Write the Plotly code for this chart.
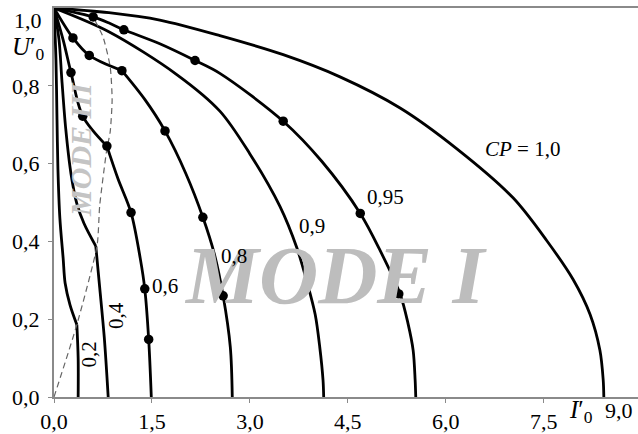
import plotly.graph_objects as go

# ---------------- data ----------------
# CP = 1,0
I_10 = [0.0, 0.84, 1.62, 2.54, 3.51, 4.38, 5.30, 6.17, 7.03, 7.55, 7.95, 8.21, 8.36, 8.41, 8.42]
U_10 = [1.0, 0.988, 0.969, 0.929, 0.880, 0.823, 0.743, 0.638, 0.512, 0.401, 0.302, 0.212, 0.120, 0.045, 0.0]
# CP = 0,95
I_095 = [0.0, 0.60, 0.86, 1.07, 1.62, 2.16, 2.54, 3.51, 4.10, 4.69, 4.99, 5.30, 5.42, 5.50, 5.53, 5.54]
U_095 = [1.0, 0.977, 0.960, 0.944, 0.908, 0.865, 0.832, 0.709, 0.606, 0.472, 0.378, 0.265, 0.190, 0.120, 0.045, 0.0]
# CP = 0,9
I_09 = [0.0, 0.84, 1.88, 2.54, 3.00, 3.46, 3.72, 3.87, 4.00, 4.07, 4.12, 4.13]
U_09 = [1.0, 0.939, 0.829, 0.735, 0.625, 0.490, 0.383, 0.298, 0.212, 0.128, 0.043, 0.0]
# CP = 0,8 (mode III part, mode I part)
I_08_A = [0.0, 0.29, 0.54, 1.04]
U_08_A = [1.0, 0.923, 0.878, 0.839]
I_08_B = [1.04, 1.39, 1.70, 2.02, 2.28, 2.46, 2.59, 2.70, 2.73]
U_08_B = [0.839, 0.765, 0.684, 0.574, 0.462, 0.365, 0.260, 0.128, 0.0]
# CP = 0,6
I_06_A = [0.0, 0.14, 0.26, 0.44, 0.81]
U_06_A = [1.0, 0.918, 0.834, 0.722, 0.645]
I_06_B = [0.81, 0.98, 1.18, 1.32, 1.39, 1.45, 1.49]
U_06_B = [0.645, 0.561, 0.474, 0.357, 0.278, 0.148, 0.0]
# CP = 0,4
I_04_A = [0.0, 0.077, 0.12, 0.18, 0.26, 0.35, 0.46, 0.64]
U_04_A = [1.0, 0.918, 0.816, 0.689, 0.574, 0.497, 0.446, 0.388]
I_04_B = [0.64, 0.70, 0.77, 0.83]
U_04_B = [0.388, 0.281, 0.153, 0.0]
# CP = 0,2
I_02_A = [0.0, 0.03, 0.046, 0.06, 0.09, 0.14, 0.17, 0.245, 0.35]
U_02_A = [1.0, 0.867, 0.714, 0.587, 0.459, 0.357, 0.293, 0.237, 0.186]
I_02_B = [0.35, 0.37, 0.37]
U_02_B = [0.186, 0.10, 0.0]
# mode III / mode I boundary (dashed)
I_BOUND = [0.0, 0.35, 0.66, 0.70, 0.81, 0.86, 0.89, 0.86, 0.75, 0.60]
U_BOUND = [0.0, 0.186, 0.390, 0.492, 0.638, 0.681, 0.765, 0.849, 0.926, 0.977]
# experimental points
DOT_I_095 = [0.60, 1.07, 2.16, 3.51, 4.69, 5.28]
DOT_U_095 = [0.977, 0.944, 0.865, 0.709, 0.472, 0.265]
DOT_I_08 = [0.29, 0.54, 1.04, 1.70, 2.28, 2.59]
DOT_U_08 = [0.923, 0.878, 0.839, 0.684, 0.462, 0.260]
DOT_I_06 = [0.26, 0.44, 0.81, 1.18, 1.39, 1.45]
DOT_U_06 = [0.834, 0.722, 0.645, 0.474, 0.278, 0.148]

X_TICKS = [0.0, 1.5, 3.0, 4.5, 6.0, 7.5]
X_TICK_TEXT = ["0,0", "1,5", "3,0", "4,5", "6,0", "7,5"]
Y_TICKS = [0.0, 0.2, 0.4, 0.6, 0.8]
Y_TICK_TEXT = ["0,0", "0,2", "0,4", "0,6", "0,8"]

# curve labels: text, I, U, angle
LBL_TEXT = ["<i>CP</i> = 1,0", "0,95", "0,9", "0,8", "0,6", "0,4", "0,2"]
LBL_I = [7.17, 5.08, 3.95, 2.76, 1.70, 0.96, 0.54]
LBL_U = [0.638, 0.515, 0.44, 0.362, 0.286, 0.21, 0.11]
LBL_ANGLE = [0, 0, 0, 0, 0, -90, -90]

# ---------------- figure ----------------
FONT = "Liberation Serif"
W, H = 638, 434
ML, MR, MT, MB = 54, 0, 8, 34
PX_PER_I = 65.3
X_MAX = (W - ML - MR) / PX_PER_I

fig = go.Figure()

line_style = dict(color="black", width=2.8, shape="spline", smoothing=0.9)
segments = [
    (I_10, U_10), (I_095, U_095), (I_09, U_09),
    (I_08_A, U_08_A), (I_08_B, U_08_B),
    (I_06_A, U_06_A), (I_06_B, U_06_B),
    (I_04_A, U_04_A), (I_04_B, U_04_B),
    (I_02_A, U_02_A), (I_02_B, U_02_B),
]
for xs, ys in segments:
    fig.add_trace(go.Scatter(x=xs, y=ys, mode="lines", line=line_style,
                             hoverinfo="skip", showlegend=False))

fig.add_trace(go.Scatter(x=I_BOUND, y=U_BOUND, mode="lines",
                         line=dict(color="#666666", width=1.2, dash="6px,4px",
                                   shape="spline", smoothing=0.6),
                         hoverinfo="skip", showlegend=False))

for xs, ys in [(DOT_I_095, DOT_U_095), (DOT_I_08, DOT_U_08), (DOT_I_06, DOT_U_06)]:
    fig.add_trace(go.Scatter(x=xs, y=ys, mode="markers",
                             marker=dict(color="black", size=9.5),
                             hoverinfo="skip", showlegend=False))

annotations = []
# watermark texts
annotations.append(dict(x=(336 - ML) / PX_PER_I, y=(400 - 278) / 392, xref="x", yref="y",
                        text="<b><i>MODE I</i></b>", showarrow=False,
                        xanchor="center", yanchor="middle",
                        font=dict(family=FONT, size=82, color="#bdbdbd")))
annotations.append(dict(x=(81 - ML) / PX_PER_I, y=(400 - 151) / 392, xref="x", yref="y",
                        text="<b><i>MODE III</i></b>", showarrow=False, textangle=-90,
                        xanchor="center", yanchor="middle",
                        font=dict(family=FONT, size=30, color="#c4c4c4")))
for t, xi, yu, ang in zip(LBL_TEXT, LBL_I, LBL_U, LBL_ANGLE):
    annotations.append(dict(x=xi, y=yu, xref="x", yref="y", text=t, showarrow=False,
                            textangle=ang, xanchor="center", yanchor="middle",
                            font=dict(family=FONT, size=21, color="black")))
fig.update_layout(annotations=annotations)


def px_to_paper(px, py):
    return (px - ML) / (W - ML - MR), (H - MB - py) / (H - MT - MB)


extra = [
    ("<i>U</i>′<sub>0</sub>", 28, 49, 25),
    ("<i>I</i>′<sub>0</sub>", 581, 415, 25),
    ("1,0", 28, 21, 22),
    ("9,0", 619, 414, 22),
]
for t, px, py, sz in extra:
    xp, yp = px_to_paper(px, py)
    fig.add_annotation(x=xp, y=yp, xref="paper", yref="paper", text=t,
                       xanchor="center", yanchor="middle",
                       showarrow=False, font=dict(family=FONT, size=sz, color="black"))

fig.update_layout(
    width=W, height=H,
    margin=dict(l=ML, r=MR, t=MT, b=MB, pad=0),
    paper_bgcolor="white", plot_bgcolor="white",
    font=dict(family=FONT, color="black"),
    xaxis=dict(range=[0, X_MAX], tickvals=X_TICKS, ticktext=X_TICK_TEXT,
               showgrid=False, zeroline=False, showline=True, linecolor="#8a8a8a",
               linewidth=2, mirror=True, ticks="outside", ticklen=4, tickcolor="#8a8a8a",
               tickfont=dict(family=FONT, size=22, color="black")),
    yaxis=dict(range=[0, 1.0], tickvals=Y_TICKS, ticktext=Y_TICK_TEXT,
               showgrid=False, zeroline=False, showline=True, linecolor="#8a8a8a",
               linewidth=2, ticks="outside", ticklen=4, tickcolor="#8a8a8a",
               ticklabelstandoff=4,
               tickfont=dict(family=FONT, size=22, color="black")),
)

fig.write_html("out.html", config={"displayModeBar": False},
               post_script="document.body.style.margin='0';")
